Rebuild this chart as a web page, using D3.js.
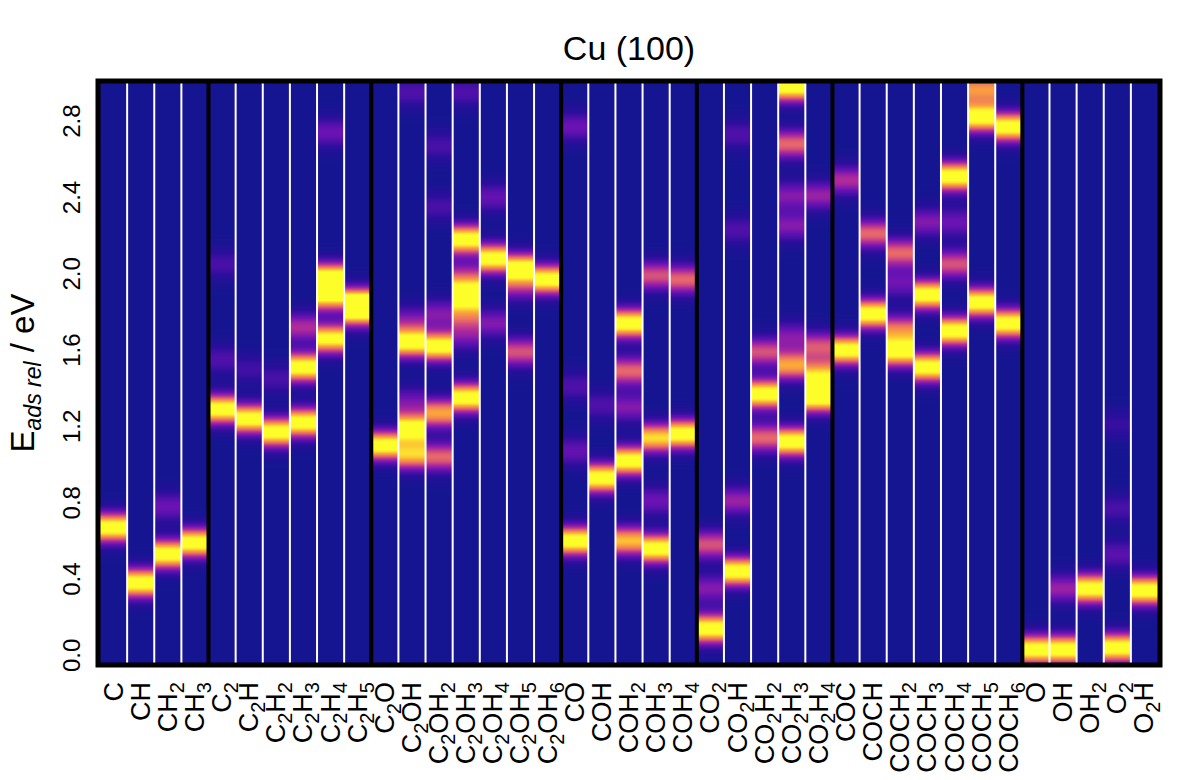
<!DOCTYPE html>
<html>
<head>
<meta charset="utf-8">
<script src="https://cdn.jsdelivr.net/npm/d3@7"></script>
<style>
  body { margin: 0; background: #fff; }
  svg { font-family: "Liberation Sans", Arial, sans-serif; }
</style>
</head>
<body>
<script>
// adsorbate columns, left to right
const labels = [
  "C", "CH", "CH2", "CH3",
  "C2", "C2H", "C2H2", "C2H3", "C2H4", "C2H5",
  "C2O", "C2OH", "C2OH2", "C2OH3", "C2OH4", "C2OH5", "C2OH6",
  "CO", "COH", "COH2", "COH3", "COH4",
  "CO2", "CO2H", "CO2H2", "CO2H3", "CO2H4",
  "COC", "COCH", "COCH2", "COCH3", "COCH4", "COCH5", "COCH6",
  "O", "OH", "OH2", "O2", "O2H"
];
const groupSizes = [4, 6, 7, 5, 5, 7, 5];
const yTicks = [0.0, 0.4, 0.8, 1.2, 1.6, 2.0, 2.4, 2.8];

// peaks per column: [energy in eV, relative weight]
const peaks = [
  [[0.67, 1]],
  [[0.38, 1]],
  [[0.53, 1], [0.78, 0.3]],
  [[0.59, 1]],
  [[1.29, 1], [1.55, 0.22], [2.05, 0.2]],
  [[1.24, 1], [1.5, 0.18]],
  [[1.17, 1], [1.45, 0.2]],
  [[1.22, 1], [1.51, 1], [1.72, 0.45]],
  [[1.98, 1], [1.88, 0.85], [1.66, 0.95], [2.74, 0.3]],
  [[1.85, 1], [1.79, 0.6]],
  [[1.10, 1]],
  [[1.64, 1], [1.19, 1], [1.05, 0.8], [1.33, 0.3], [1.76, 0.3], [2.95, 0.22]],
  [[1.62, 1], [1.27, 0.75], [1.04, 0.6], [1.79, 0.35], [2.35, 0.2], [2.67, 0.2]],
  [[2.18, 1], [1.89, 1], [1.78, 0.5], [1.35, 1], [1.99, 0.4], [1.67, 0.3], [2.95, 0.22]],
  [[2.08, 1], [2.4, 0.28], [1.74, 0.35]],
  [[2.03, 1], [1.59, 0.55], [1.93, 0.35]],
  [[1.97, 1]],
  [[0.60, 1], [2.77, 0.3], [1.41, 0.22], [1.07, 0.28]],
  [[0.93, 1], [1.31, 0.22]],
  [[1.74, 1], [1.49, 0.6], [1.02, 1], [0.60, 0.8], [1.3, 0.35]],
  [[1.99, 0.55], [1.14, 0.85], [0.56, 1], [0.81, 0.3]],
  [[1.97, 0.6], [1.16, 1]],
  [[0.14, 1], [0.58, 0.55], [0.35, 0.35]],
  [[0.44, 1], [0.81, 0.4], [2.73, 0.22], [2.23, 0.22]],
  [[1.37, 1], [1.59, 0.55], [1.14, 0.6]],
  [[2.98, 1], [2.68, 0.6], [2.41, 0.35], [2.25, 0.35], [1.52, 0.75], [1.12, 1], [1.67, 0.35]],
  [[1.35, 1], [1.47, 0.8], [1.62, 0.55], [2.41, 0.4]],
  [[1.60, 1], [2.49, 0.45]],
  [[1.79, 1], [2.21, 0.6]],
  [[1.59, 0.95], [2.11, 0.6], [1.71, 0.6], [1.95, 0.3]],
  [[1.89, 1], [1.51, 1], [2.27, 0.35]],
  [[2.51, 1], [1.70, 1], [2.05, 0.55], [2.27, 0.3]],
  [[2.82, 1], [2.97, 0.7], [1.85, 1]],
  [[2.77, 1], [1.74, 1]],
  [[0.03, 1]],
  [[0.03, 1], [0.35, 0.4]],
  [[0.35, 1]],
  [[0.04, 1], [0.53, 0.25], [0.77, 0.2], [1.21, 0.15]],
  [[0.34, 1]]
];

const w = 1200, h = 780;
const pLeft = 100, pRight = 1158, pTop = 83, pBottom = 663;
const emin = -0.04, emax = 3.0, step = 0.01, sigma = 0.056;

const svg = d3.select("body").append("svg")
  .attr("width", w).attr("height", h);

const x = d3.scaleBand().domain(labels).range([pLeft, pRight]);
const y = d3.scaleLinear().domain([emin, emax]).range([pBottom, pTop]);

const color = d3.scaleLinear()
  .domain([0, 0.12, 0.3, 0.45, 0.6, 0.75, 0.9])
  .range(["#151591", "#2c0e9c", "#6b12b4", "#b02a9a", "#e8686a", "#fba43a", "#fdfd2a"])
  .clamp(true);

function density(pk, e) {
  return d3.sum(pk, p => p[1] * Math.exp(-((e - p[0]) ** 2) / (2 * sigma * sigma)));
}

const grid = d3.range(emin, emax + step / 2, step);

// one vertical gradient per column, sampled on the energy grid
const defs = svg.append("defs");
labels.forEach((lab, i) => {
  defs.append("linearGradient")
    .attr("id", "col" + i)
    .attr("gradientUnits", "userSpaceOnUse")
    .attr("x1", 0).attr("x2", 0)
    .attr("y1", y(emin)).attr("y2", y(emax))
    .selectAll("stop")
    .data(grid)
    .join("stop")
    .attr("offset", e => (e - emin) / (emax - emin))
    .attr("stop-color", e => color(density(peaks[i], e)));
});

svg.append("g").selectAll("rect")
  .data(labels)
  .join("rect")
  .attr("x", d => x(d))
  .attr("width", x.bandwidth() + 0.5)
  .attr("y", y(emax))
  .attr("height", y(emin) - y(emax))
  .attr("fill", (d, i) => `url(#col${i})`);

// separators
const groupEnds = d3.cumsum(groupSizes).slice(0, -1);
const inner = d3.range(1, labels.length).filter(i => !groupEnds.includes(i));

svg.append("g").selectAll("line")
  .data(inner)
  .join("line")
  .attr("x1", i => x(labels[i])).attr("x2", i => x(labels[i]))
  .attr("y1", pTop).attr("y2", pBottom)
  .attr("stroke", "#fff").attr("stroke-width", 2);

svg.append("g").selectAll("line")
  .data(groupEnds)
  .join("line")
  .attr("x1", i => x(labels[i])).attr("x2", i => x(labels[i]))
  .attr("y1", pTop).attr("y2", pBottom)
  .attr("stroke", "#000").attr("stroke-width", 4);

svg.append("rect")
  .attr("x", pLeft - 2).attr("y", pTop - 2)
  .attr("width", pRight - pLeft + 4).attr("height", pBottom - pTop + 4)
  .attr("fill", "none").attr("stroke", "#000").attr("stroke-width", 5);

// y tick labels (rotated, no tick marks)
svg.append("g").selectAll("text")
  .data(yTicks)
  .join("text")
  .attr("transform", d => `translate(80,${y(d)}) rotate(-90)`)
  .attr("text-anchor", "middle")
  .attr("font-size", 24)
  .text(d3.format(".1f"));

// x labels with subscripted digits
const xl = svg.append("g").selectAll("text")
  .data(labels)
  .join("text")
  .attr("transform", d => `translate(${x(d) + x.bandwidth() / 2 + 9},682) rotate(-90)`)
  .attr("text-anchor", "end")
  .attr("font-size", 27);

xl.each(function (d) {
  const t = d3.select(this);
  const parts = d.match(/\d+|\D+/g);
  let sub = false;
  parts.forEach(p => {
    const isNum = /\d/.test(p);
    const s = t.append("tspan").text(p);
    if (isNum) { s.attr("font-size", 20).attr("dy", sub ? 0 : 7); sub = true; }
    else { if (sub) s.attr("dy", -7); sub = false; }
  });
});

// axis title
const yt = svg.append("text")
  .attr("transform", `translate(34,${(pTop + pBottom) / 2}) rotate(-90)`)
  .attr("text-anchor", "middle")
  .attr("font-size", 33);
yt.append("tspan").text("E");
yt.append("tspan").text("ads rel").attr("font-style", "italic").attr("font-size", 23).attr("dy", 7);
yt.append("tspan").text(" / eV").attr("dy", -7);

svg.append("text")
  .attr("x", (pLeft + pRight) / 2).attr("y", 60)
  .attr("text-anchor", "middle")
  .attr("font-size", 34)
  .text("Cu (100)");
</script>
</body>
</html>
